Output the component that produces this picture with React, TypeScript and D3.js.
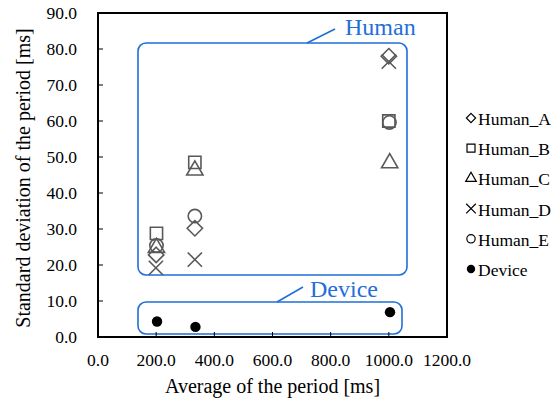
import React from 'react';
import * as d3 from 'd3';

// series values
const seriesNames = ['Human_A', 'Human_B', 'Human_C', 'Human_D', 'Human_E', 'Device'];
const humanAX = [200, 333, 1000];
const humanAY = [22.8, 30.2, 78.0];
const humanBX = [201, 333, 1000];
const humanBY = [28.8, 48.5, 60.0];
const humanCX = [201, 333, 1003];
const humanCY = [24.8, 46.3, 48.3];
const humanDX = [199, 333, 1000];
const humanDY = [19.2, 21.5, 76.5];
const humanEX = [201, 333, 1002];
const humanEY = [25.4, 33.6, 59.6];
const deviceX = [203, 335, 1004];
const deviceY = [4.3, 2.8, 6.9];

const xTicks = [0, 200, 400, 600, 800, 1000, 1200];
const yTicks = [0, 10, 20, 30, 40, 50, 60, 70, 80, 90];

const FONT = '"Liberation Serif", "Times New Roman", serif';
const BLUE = '#1f6fd9';
const GRAY = '#595959';

const symTimes: any = (d3 as any).symbolTimes || d3.symbolCross;
const symDiamond: any = (d3 as any).symbolDiamond2 || d3.symbolDiamond;

function App() {
  const W = 557, H = 403;
  const left = 98, right = 447, top = 13, bottom = 337;

  const x = d3.scaleLinear().domain([0, 1200]).range([left, right]);
  const y = d3.scaleLinear().domain([0, 90]).range([bottom, top]);

  const series = [
    { name: seriesNames[0], xs: humanAX, ys: humanAY, type: symDiamond, size: 150, small: 55 },
    { name: seriesNames[1], xs: humanBX, ys: humanBY, type: d3.symbolSquare, size: 150, small: 64 },
    { name: seriesNames[2], xs: humanCX, ys: humanCY, type: d3.symbolTriangle, size: 115, small: 48 },
    { name: seriesNames[3], xs: humanDX, ys: humanDY, type: symTimes, size: 135, small: 62 },
    { name: seriesNames[4], xs: humanEX, ys: humanEY, type: d3.symbolCircle, size: 140, small: 55 },
    { name: seriesNames[5], xs: deviceX, ys: deviceY, type: d3.symbolCircle, size: 85, small: 55, filled: true },
  ];

  // rounded callout boxes
  const humanBox = { x0: 138, x1: 407, y0: 43, y1: 275 };
  const deviceBox = { x0: 138, x1: 402, y0: 302, y1: 334 };

  const legendX = 471, legendBase = 125, legendStep = 30.2;

  return (
    <svg width={W} height={H} style={{ position: 'absolute', left: 0, top: 0, background: '#fff' }} fontFamily={FONT}>
      {/* callout boxes */}
      <rect x={humanBox.x0} y={humanBox.y0} width={humanBox.x1 - humanBox.x0} height={humanBox.y1 - humanBox.y0}
        rx={8} fill="none" stroke={BLUE} strokeWidth={1.6} />
      <line x1={307} y1={43} x2={335} y2={29} stroke={BLUE} strokeWidth={1.6} />
      <text x={345} y={35} fontSize={24} fill={BLUE}>Human</text>

      <rect x={deviceBox.x0} y={deviceBox.y0} width={deviceBox.x1 - deviceBox.x0} height={deviceBox.y1 - deviceBox.y0}
        rx={8} fill="none" stroke={BLUE} strokeWidth={1.6} />
      <line x1={277} y1={302} x2={303} y2={287} stroke={BLUE} strokeWidth={1.6} />
      <text x={310} y={297} fontSize={24} fill={BLUE}>Device</text>

      {/* frame */}
      <rect x={left} y={top} width={right - left} height={bottom - top} fill="none" stroke="#000" strokeWidth={2} />

      {/* y axis */}
      {yTicks.map(t => (
        <g key={'y' + t}>
          <line x1={left} x2={left + 5} y1={y(t)} y2={y(t)} stroke="#000" strokeWidth={1} />
          <text x={77} y={y(t)} dy="0.35em" textAnchor="end" fontSize={17.5} fill="#000">{t.toFixed(1)}</text>
        </g>
      ))}
      {/* x axis */}
      {xTicks.map(t => (
        <g key={'x' + t}>
          <line x1={x(t)} x2={x(t)} y1={bottom} y2={bottom - 5} stroke="#000" strokeWidth={1} />
          <text x={x(t)} y={366} textAnchor="middle" fontSize={17.5} fill="#000">{t.toFixed(1)}</text>
        </g>
      ))}

      <text x={(left + right) / 2} y={393} textAnchor="middle" fontSize={20} fill="#000">Average of the period [ms]</text>
      <text transform={`translate(30,178) rotate(-90)`} textAnchor="middle" fontSize={20} fill="#000">
        Standard deviation of the period [ms]
      </text>

      {/* points */}
      {series.map(s => (
        <g key={s.name}>
          {s.xs.map((v, i) => (
            <path key={i}
              d={d3.symbol().type(s.type).size(s.size)() as string}
              transform={`translate(${x(v)},${y(s.ys[i])})`}
              fill={s.filled ? '#000' : 'none'}
              stroke={s.filled ? 'none' : GRAY}
              strokeWidth={1.6} />
          ))}
        </g>
      ))}

      {/* legend */}
      {series.map((s, i) => (
        <g key={'lg' + s.name} transform={`translate(${legendX},${legendBase + i * legendStep})`}>
          <path d={d3.symbol().type(s.type).size(s.small)() as string}
            transform="translate(0,-7)"
            fill={s.filled ? '#000' : 'none'} stroke={s.filled ? 'none' : '#000'} strokeWidth={1.2} />
          <text x={7} y={0} fontSize={17.5} fill="#000">{s.name}</text>
        </g>
      ))}
    </svg>
  );
}

export default App;
